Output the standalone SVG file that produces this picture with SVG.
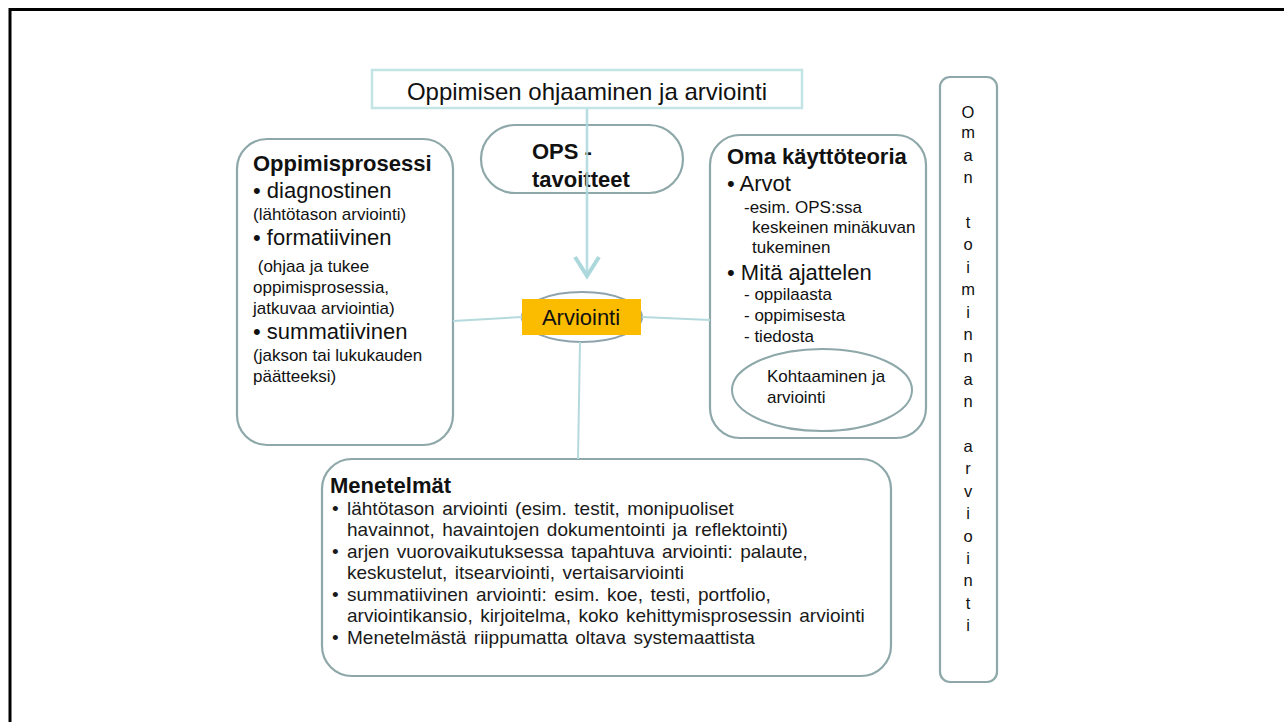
<svg xmlns="http://www.w3.org/2000/svg" width="1284" height="722" viewBox="0 0 1284 722">
<style>
text{font-family:"Liberation Sans",Arial,sans-serif;fill:#111}
.box{fill:#fff;stroke:#8ea7a9;stroke-width:2.2}
.b{font-weight:bold;font-size:22px}
.m{font-size:22px}
.s{font-size:17px}
.t{font-size:19px;word-spacing:2.2px;fill:#1a1a1a}
.v{font-size:16.5px;text-anchor:middle}
.con{fill:none;stroke:#b5dadd;stroke-width:2}
.arr{fill:none;stroke:#acd8dc;stroke-width:4}
</style>
<rect width="1284" height="722" fill="#fff"/>
<path d="M10 722 V9.5 H1284" fill="none" stroke="#000" stroke-width="3"/>

<g id="title">
<rect x="372" y="70" width="430" height="38" fill="#fff" stroke="#c3e4e4" stroke-width="2.5"/>
<text x="587" y="100" font-size="24" text-anchor="middle">Oppimisen ohjaaminen ja arviointi</text>
</g>

<g id="ops">
<rect class="box" x="481" y="125" width="202" height="68" rx="34"/>
<text class="b" x="532" y="159">OPS -</text>
<text class="b" x="532" y="187">tavoitteet</text>
</g>

<g id="oppimisprosessi">
<rect class="box" x="237" y="139" width="216" height="306" rx="30"/>
<text class="b" x="253" y="171">Oppimisprosessi</text>
<text class="m" x="253" y="198">• diagnostinen</text>
<text class="s" x="253" y="220">(lähtötason arviointi)</text>
<text class="m" x="253" y="245">• formatiivinen</text>
<text class="s" x="253" y="272" xml:space="preserve"> (ohjaa ja tukee</text>
<text class="s" x="253" y="293">oppimisprosessia,</text>
<text class="s" x="253" y="314">jatkuvaa arviointia)</text>
<text class="m" x="253" y="339">• summatiivinen</text>
<text class="s" x="253" y="361">(jakson tai lukukauden</text>
<text class="s" x="253" y="382">päätteeksi)</text>
</g>

<g id="kayttoteoria">
<rect class="box" x="710" y="135" width="216" height="303" rx="30"/>
<text class="b" x="727" y="164">Oma käyttöteoria</text>
<text class="m" x="727" y="191">• Arvot</text>
<text class="s" x="744" y="213">-esim. OPS:ssa</text>
<text class="s" x="752" y="233">keskeinen minäkuvan</text>
<text class="s" x="752" y="253">tukeminen</text>
<text class="m" x="727" y="280">• Mitä ajattelen</text>
<text class="s" x="744" y="300">- oppilaasta</text>
<text class="s" x="744" y="321">- oppimisesta</text>
<text class="s" x="744" y="342">- tiedosta</text>
<g id="kohtaaminen">
<ellipse cx="822" cy="390" rx="90" ry="41" fill="#fff" stroke="#8ea7a9" stroke-width="2"/>
<text class="s" x="767" y="382">Kohtaaminen ja</text>
<text class="s" x="767" y="403">arviointi</text>
</g>
</g>

<g id="arviointi">
<ellipse cx="582" cy="317" rx="60" ry="25" fill="#fff" stroke="#8fa3ad" stroke-width="2"/>
<rect x="522" y="299" width="119" height="36" fill="#fbbc00"/>
<text x="581" y="325" font-size="22" text-anchor="middle">Arviointi</text>
</g>

<g id="menetelmat">
<rect class="box" x="322" y="459" width="569" height="217" rx="30"/>
<text class="b" x="330" y="493">Menetelmät</text>
<text class="t" x="332" y="515">•</text>
<text class="t" x="347" y="515">lähtötason arviointi (esim. testit, monipuoliset</text>
<text class="t" x="347" y="536">havainnot, havaintojen dokumentointi ja reflektointi)</text>
<text class="t" x="332" y="558">•</text>
<text class="t" x="347" y="558">arjen vuorovaikutuksessa tapahtuva arviointi: palaute,</text>
<text class="t" x="347" y="579">keskustelut, itsearviointi, vertaisarviointi</text>
<text class="t" x="332" y="601">•</text>
<text class="t" x="347" y="601">summatiivinen arviointi: esim. koe, testi, portfolio,</text>
<text class="t" x="347" y="622">arviointikansio, kirjoitelma, koko kehittymisprosessin arviointi</text>
<text class="t" x="332" y="644">•</text>
<text class="t" x="347" y="644">Menetelmästä riippumatta oltava systemaattista</text>
</g>

<g id="oman-toiminnan-arviointi">
<rect class="box" x="940" y="77" width="57" height="605" rx="10"/>
<text class="v" x="968" y="117.5">O</text>
<text class="v" x="968" y="138.4">m</text>
<text class="v" x="968" y="160.8">a</text>
<text class="v" x="968" y="183.2">n</text>
<text class="v" x="968" y="228">t</text>
<text class="v" x="968" y="250.4">o</text>
<text class="v" x="968" y="272.8">i</text>
<text class="v" x="968" y="295.2">m</text>
<text class="v" x="968" y="317.6">i</text>
<text class="v" x="968" y="340">n</text>
<text class="v" x="968" y="362.4">n</text>
<text class="v" x="968" y="384.8">a</text>
<text class="v" x="968" y="407.2">n</text>
<text class="v" x="968" y="452">a</text>
<text class="v" x="968" y="474.4">r</text>
<text class="v" x="968" y="496.8">v</text>
<text class="v" x="968" y="519.2">i</text>
<text class="v" x="968" y="541.6">o</text>
<text class="v" x="968" y="564">i</text>
<text class="v" x="968" y="586.4">n</text>
<text class="v" x="968" y="608.8">t</text>
<text class="v" x="968" y="631.2">i</text>
</g>

<g id="connectors">
<line x1="587" y1="109" x2="587" y2="275" stroke="#acd8dc" stroke-width="2.6" stroke-opacity="0.85"/>
<polyline class="arr" points="575,257 587,276 599,257"/>
<line class="con" x1="453" y1="321" x2="522" y2="317"/>
<line class="con" x1="642" y1="317" x2="710" y2="320"/>
<line class="con" x1="580" y1="342" x2="578" y2="459"/>
</g>
</svg>
